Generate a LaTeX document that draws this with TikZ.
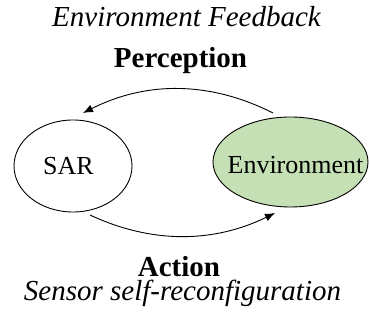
\documentclass[tikz,border=0pt]{standalone}
\usepackage{fontspec}
\setmainfont{Liberation Serif}[
  UprightFont={Liberation Serif},
  BoldFont={Liberation Serif Bold},
  ItalicFont={Liberation Serif Italic},
  BoldItalicFont={Liberation Serif Bold Italic}]
\usetikzlibrary{arrows.meta,shapes.geometric,calc}
\definecolor{envgreen}{HTML}{C5E0B4}
\begin{document}
\begin{tikzpicture}[x=1pt,y=1pt,
  blob/.style={ellipse,draw=black,line width=0.9pt,inner sep=0pt},
  nodetext/.style={font=\fontsize{26}{30}\selectfont,anchor=base,inner sep=0pt},
  headb/.style={font=\fontsize{29}{34}\selectfont\bfseries,anchor=base,inner sep=0pt},
  headi/.style={font=\fontsize{29}{34}\selectfont\itshape,anchor=base,inner sep=0pt},
  flow/.style={line width=0.9pt,-{Latex[length=10pt,width=8pt]}}]
\useasboundingbox (0,0) rectangle (369,326);
\node[blob,minimum width=118pt,minimum height=92pt] (sar) at (73,160) {};
\node[blob,fill=envgreen,minimum width=155pt,minimum height=90pt] (env) at (290.5,164) {};
\node[nodetext] (sartext) at (68.5,151) {SAR};
\node[nodetext] (envtext) at (295.5,152) {Environment};
\node[headi] (fb) at (186.5,299) {Environment Feedback};
\node[headb] (perc) at (180.5,258) {Perception};
\node[headb] (act) at (179,49) {Action};
\node[headi] (sens) at (182.5,25) {Sensor self-reconfiguration};
\coordinate (ts) at ($(env.center)+(-17.5,49)$);
\coordinate (te) at ($(sar.center)+(10,53)$);
\coordinate (bs) at ($(sar.center)+(17,-49)$);
\coordinate (be) at ($(env.center)+(-15.5,-51)$);
\draw[flow] (ts) .. controls (209.7,245) and (146.3,245) .. (te);
\draw[flow] (bs) .. controls (152,82) and (213.7,83) .. (be);
\end{tikzpicture}
\end{document}
